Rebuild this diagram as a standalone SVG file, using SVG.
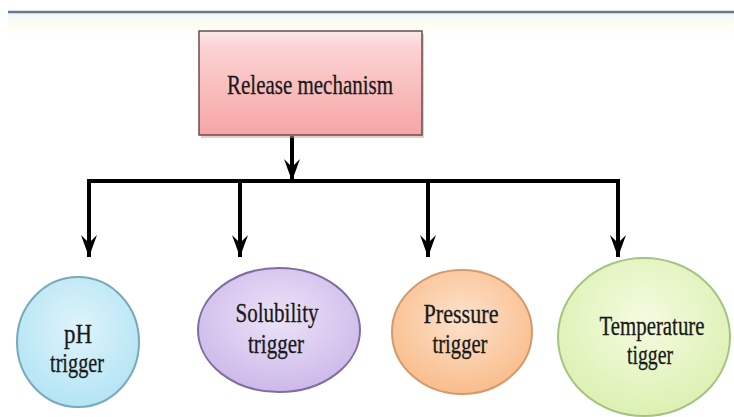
<svg xmlns="http://www.w3.org/2000/svg" width="734" height="417" viewBox="0 0 734 417">
  <style>
    .t { font-family: 'Liberation Serif', 'Times New Roman', Times, serif; font-size: 27px; fill: #1a1a1a; text-anchor: middle; stroke: #1a1a1a; stroke-width: 0.3; }
    .conn { stroke: #000; stroke-width: 4; fill: none; }
  </style>
  <defs>
    <linearGradient id="band" x1="0" y1="0" x2="0" y2="1">
      <stop offset="0" stop-color="#eef8fb"/>
      <stop offset="0.5" stop-color="#fdfdf0"/>
      <stop offset="1" stop-color="#ffffff"/>
    </linearGradient>
    <linearGradient id="pink" x1="0" y1="0" x2="0" y2="1">
      <stop offset="0" stop-color="#fde8e8"/>
      <stop offset="0.15" stop-color="#fbd3d3"/>
      <stop offset="1" stop-color="#f6a5a5"/>
    </linearGradient>
    <radialGradient id="blue" cx="0.5" cy="0.4" r="0.6">
      <stop offset="0" stop-color="#dff4fb"/>
      <stop offset="1" stop-color="#b4e4f4"/>
    </radialGradient>
    <radialGradient id="purple" cx="0.5" cy="0.4" r="0.6">
      <stop offset="0" stop-color="#ece3f8"/>
      <stop offset="1" stop-color="#cdb9ea"/>
    </radialGradient>
    <radialGradient id="orange" cx="0.5" cy="0.4" r="0.6">
      <stop offset="0" stop-color="#fde2cc"/>
      <stop offset="1" stop-color="#f9bd8c"/>
    </radialGradient>
    <radialGradient id="green" cx="0.5" cy="0.4" r="0.6">
      <stop offset="0" stop-color="#f4fbe0"/>
      <stop offset="1" stop-color="#dcf1b2"/>
    </radialGradient>
    <marker id="head" markerUnits="userSpaceOnUse" markerWidth="18" markerHeight="26" viewBox="0 0 18 26" refX="9" refY="24" orient="0">
      <path d="M1,2 L9,10 L17,2 L9,24 Z" fill="#000"/>
    </marker>
  </defs>

  <rect x="0" y="0" width="734" height="417" fill="#ffffff"/>
  <rect x="8" y="13" width="726" height="24" fill="url(#band)"/>
  <line x1="8" y1="12" x2="734" y2="12" stroke="#6d7889" stroke-width="2.5"/>

  <g id="connectors">
    <line class="conn" x1="292" y1="136" x2="292" y2="181" marker-end="url(#head)"/>
    <polyline class="conn" points="89,185 89,181 618,181 618,185"/>
    <line class="conn" x1="89" y1="181" x2="89" y2="257" marker-end="url(#head)"/>
    <line class="conn" x1="240" y1="181" x2="240" y2="257" marker-end="url(#head)"/>
    <line class="conn" x1="428" y1="181" x2="428" y2="257" marker-end="url(#head)"/>
    <line class="conn" x1="618" y1="181" x2="618" y2="257" marker-end="url(#head)"/>
  </g>

  <g id="release">
    <rect x="201" y="34" width="223" height="104" fill="#c9a0a0" opacity="0.5"/>
    <rect x="199" y="31" width="223" height="104" fill="url(#pink)" stroke="#6b4b4b" stroke-width="1.5"/>
    <text class="t" x="310" y="94" font-size="29" textLength="166" lengthAdjust="spacingAndGlyphs">Release mechanism</text>
  </g>

  <g id="ph">
    <ellipse cx="78" cy="342" rx="61" ry="65" fill="url(#blue)" stroke="#78a9bd" stroke-width="2"/>
    <text class="t" x="78" y="343" textLength="28" lengthAdjust="spacingAndGlyphs">pH</text>
    <text class="t" x="77" y="372" textLength="54" lengthAdjust="spacingAndGlyphs">trigger</text>
  </g>

  <g id="solubility">
    <ellipse cx="279" cy="330" rx="81" ry="62" fill="url(#purple)" stroke="#7f6e9e" stroke-width="2"/>
    <text class="t" x="277" y="322" textLength="83" lengthAdjust="spacingAndGlyphs">Solubility</text>
    <text class="t" x="276" y="353" textLength="56" lengthAdjust="spacingAndGlyphs">trigger</text>
  </g>

  <g id="pressure">
    <ellipse cx="462" cy="332" rx="70" ry="62" fill="url(#orange)" stroke="#d49a6c" stroke-width="2"/>
    <text class="t" x="461" y="323" textLength="75" lengthAdjust="spacingAndGlyphs">Pressure</text>
    <text class="t" x="460" y="353" textLength="55" lengthAdjust="spacingAndGlyphs">trigger</text>
  </g>

  <g id="temperature">
    <ellipse cx="644" cy="337" rx="86" ry="79" fill="url(#green)" stroke="#a6c384" stroke-width="2"/>
    <text class="t" x="652" y="335" textLength="105" lengthAdjust="spacingAndGlyphs">Temperature</text>
    <text class="t" x="650" y="364" textLength="46" lengthAdjust="spacingAndGlyphs">tigger</text>
  </g>
</svg>
